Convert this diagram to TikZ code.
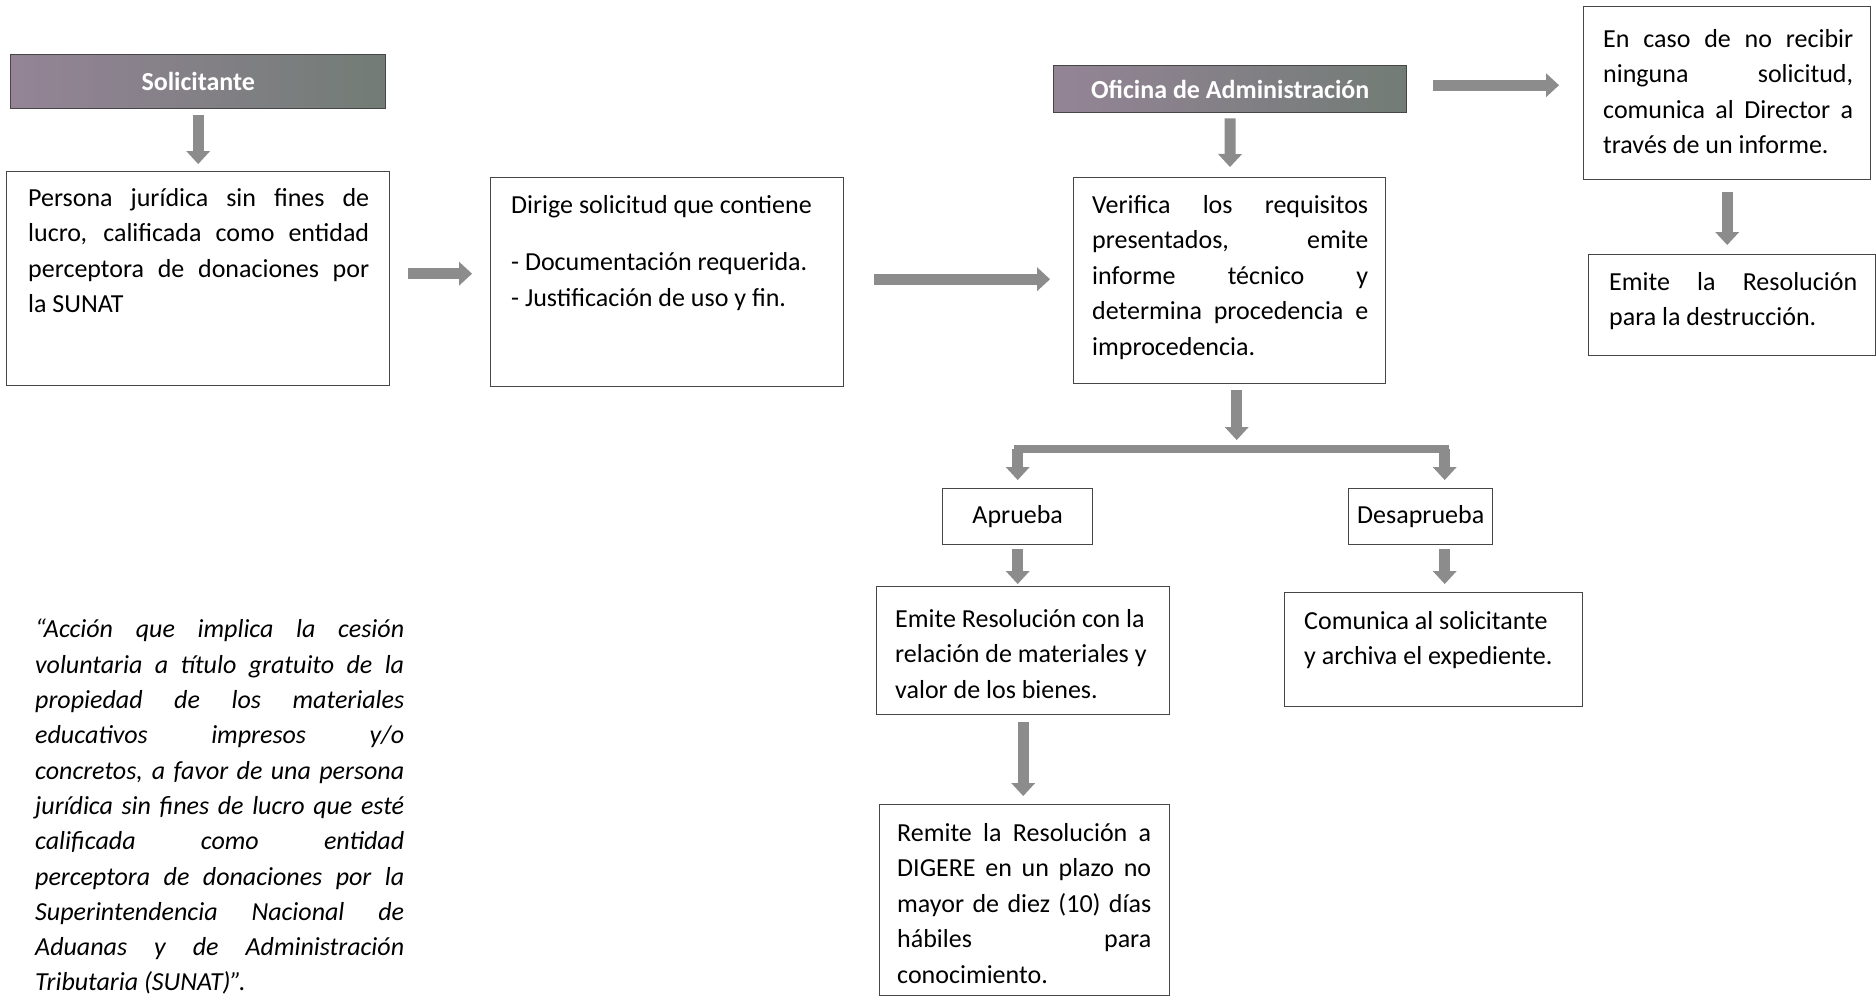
\documentclass[tikz,border=0pt]{standalone}
\usepackage{fontspec}
\setmainfont{Carlito}
\usetikzlibrary{positioning,arrows.meta}

\definecolor{arrgray}{RGB}{140,140,140}
\definecolor{edge}{RGB}{70,70,70}
\definecolor{headL}{RGB}{148,132,150}
\definecolor{headR}{RGB}{114,124,118}

\hyphenpenalty=10000
\exhyphenpenalty=10000

\tikzset{
  frame/.style={draw=edge, line width=1.4pt, anchor=north west, inner sep=0pt,
    font=\fontsize{26}{35.5}\selectfont},
  txt/.style={anchor=north west, inner sep=0pt, align=justify,
    font=\fontsize{26}{35.5}\selectfont},
  head/.style={draw=edge, line width=1.4pt, anchor=north west, inner sep=0pt,
    left color=headL, right color=headR, text=white,
    font=\fontsize{26}{30}\selectfont\bfseries},
  arr/.style={draw=arrgray, line width=11pt,
    -{Triangle[length=13pt,width=24pt,line width=0pt]}},
  bar/.style={draw=arrgray, line width=8pt, line cap=rect},
}

\begin{document}
\begin{tikzpicture}[x=1pt, y=-1pt]
      \fill[white] (0,0) rectangle (1876,1002);
      \useasboundingbox (0,0) rectangle (1876,1002);
      % LEFT PART
      % -- solicitante
      \node[head, minimum width=375pt, minimum height=54pt] (solic) at (10,54) {Solicitante};
      \node[frame, minimum width=383pt, minimum height=214pt] (persona) at (6,171) {};
      \node[txt, text width=341pt, below right=17pt and 22pt of persona.north west] (personaT)
        {Persona jurídica sin fines de\linebreak lucro, calificada como entidad\linebreak
         perceptora de donaciones por\linebreak la SUNAT};
      % -- solicitud
      \node[frame, minimum width=353pt, minimum height=209pt] (dirige) at (490,177) {};
      \node[txt, align=left, below right=18pt and 21pt of dirige.north west] (dirigeT)
        {Dirige solicitud que contiene\\[22pt] - Documentación requerida.\\
         - Justificación de uso y fin.};
      % -- definition
      \node[txt, text width=369pt, font=\fontsize{26}{35.3}\selectfont\itshape] (quote) at (35,619)
        {“Acción que implica la cesión\linebreak voluntaria a título gratuito de la\linebreak
         propiedad de los materiales\linebreak educativos impresos y/o\linebreak
         concretos, a favor de una persona\linebreak jurídica sin fines de lucro que esté\linebreak
         calificada como entidad\linebreak perceptora de donaciones por la\linebreak
         Superintendencia Nacional de\linebreak Aduanas y de Administración\linebreak
         Tributaria (SUNAT)”.};
      % MIDDLE PART
      % -- oficina
      \node[head, minimum width=353pt, minimum height=47pt] (oficina) at (1053,65) {Oficina de Administración};
      \node[frame, minimum width=312pt, minimum height=206pt] (verifica) at (1073,177) {};
      \node[txt, text width=276pt, below right=18pt and 19pt of verifica.north west] (verificaT)
        {Verifica los requisitos\linebreak presentados, emite\linebreak informe técnico y\linebreak
         determina procedencia e\linebreak improcedencia.};
      % -- branches
      \node[frame, minimum width=150pt, minimum height=56pt] (aprueba) at (942,488) {Aprueba};
      \node[frame, minimum width=144pt, minimum height=56pt] (desap) at (1348,488) {Desaprueba};
      \node[frame, minimum width=293pt, minimum height=128pt] (emite) at (876,586) {};
      \node[txt, align=left, below right=23pt and 19pt of emite.north west] (emiteT)
        {Emite Resolución con la\\ relación de materiales y\\ valor de los bienes.};
      \node[frame, minimum width=298pt, minimum height=114pt] (comunica) at (1284,592) {};
      \node[txt, align=left, below right=19pt and 20pt of comunica.north west] (comunicaT)
        {Comunica al solicitante\\ y archiva el expediente.};
      \node[frame, minimum width=290pt, minimum height=191pt] (remite) at (879,804) {};
      \node[txt, text width=254pt, below right=19pt and 18pt of remite.north west] (remiteT)
        {Remite la Resolución a\linebreak DIGERE en un plazo no\linebreak
         mayor de diez (10) días\linebreak hábiles para\linebreak conocimiento.};
      % RIGHT PART
      \node[frame, minimum width=287pt, minimum height=173pt] (caso) at (1583,6) {};
      \node[txt, text width=250pt, below right=23pt and 20pt of caso.north west] (casoT)
        {En caso de no recibir\linebreak ninguna solicitud,\linebreak
         comunica al Director a\linebreak través de un informe.};
      \node[frame, minimum width=287pt, minimum height=101pt] (destruc) at (1588,254) {};
      \node[txt, text width=248pt, below right=18pt and 21pt of destruc.north west] (destrucT)
        {Emite la Resolución\linebreak para la destrucción.};
      % ARROWS
      \coordinate (barY) at (0,449);
      \coordinate (barL) at (aprueba.north |- barY);
      \coordinate (barR) at ([xshift=24pt]desap.north |- barY);
      \draw[arr, shorten <=6pt, shorten >=7pt] (solic) -- (persona);
      \draw[arr, shorten <=18pt, shorten >=18pt] ([yshift=5pt]persona.east) -- ([yshift=5pt]persona.east -| dirige.west);
      \draw[arr, shorten <=30pt, shorten >=23pt] ([yshift=3pt]dirige.east) -- ([yshift=3pt]dirige.east -| verifica.west);
      \draw[arr, shorten <=5pt, shorten >=10pt] (oficina) -- (verifica);
      \draw[arr, shorten <=26pt, shorten >=24pt] ([yshift=4pt]oficina.east) -- ([yshift=4pt]oficina.east -| caso.west);
      \draw[arr, shorten <=12pt, shorten >=9pt] (caso.south) -- (caso.south |- destruc.north);
      \draw[arr, shorten <=6pt, shorten >=9pt] ([xshift=7pt]verifica.south) -- ([xshift=7pt]verifica.south |- barY);
      \draw[bar] (barL) -- (barR);
      \draw[arr, shorten >=8pt] (barL) -- (barL |- aprueba.north);
      \draw[arr, shorten >=8pt] (barR) -- (barR |- desap.north);
      \draw[arr, shorten <=4pt, shorten >=2pt] (aprueba.south) -- (aprueba.south |- emite.north);
      \draw[arr, shorten <=4pt, shorten >=8pt] (barR |- desap.south) -- (barR |- comunica.north);
      \draw[arr, shorten <=7pt, shorten >=8pt] (emite.south) -- (emite.south |- remite.north);
\end{tikzpicture}
\end{document}
